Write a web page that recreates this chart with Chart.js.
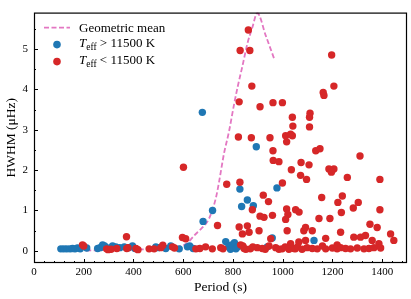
<!DOCTYPE html>
<html>
<head>
<meta charset="utf-8">
<script src="https://cdn.jsdelivr.net/npm/chart.js@4.4.0/dist/chart.umd.min.js"></script>
<style>
  html, body { margin: 0; padding: 0; background: #fff; }
  canvas { display: block; }
</style>
</head>
<body>
<canvas id="hwhmChart" width="411" height="299"></canvas>
<script>
// Geometric mean curve
const geoX = [210, 300, 400, 500, 577, 616, 644, 671, 704, 731, 744, 764, 784, 804, 820, 838, 858, 878, 898, 932, 965];
const geoY = [0.01, 0.02, 0.03, 0.06, 0.1, 0.19, 0.38, 0.54, 0.8, 1.3, 1.7, 2.41, 2.95, 3.61, 4.09, 4.57, 5.13, 5.53, 5.89, 5.33, 4.77];

// Teff > 11500 K
const blueX = [108, 120, 132, 145, 155, 165, 175, 186, 256, 266, 276, 284, 296, 316, 329, 345, 363, 380,
    396, 406, 490, 500, 530, 550, 584, 617, 626, 640, 680, 677, 718, 771, 783, 790, 795, 800,
    806, 812, 820, 828, 835, 858, 882, 894, 938, 958, 977, 1126, 212];
const blueY = [0.05, 0.05, 0.05, 0.05, 0.06, 0.05, 0.07, 0.05, 0.06, 0.08, 0.15, 0.12, 0.07, 0.12, 0.10, 0.08, 0.10, 0.08,
    0.12, 0.06, 0.10, 0.08, 0.06, 0.12, 0.05, 0.10, 0.12, 0.06, 0.73, 3.43, 1.00, 0.23, 0.10, 0.04, 0.15, 0.08,
    0.20, 0.05, 0.10, 1.53, 1.10, 1.26, 1.12, 2.58, 0.10, 0.32, 1.56, 0.26, 0.07];

// Teff < 11500 K
const redX = [
    195, 200, 292, 298, 310, 333, 372, 373, 378, 410, 418, 463, 483, 510, 518, 557, 565, 597, 610, 601, 651, 667, 690, 717, 738, 751, 775,
    822, 874, 949, 1012, 1039, 1016, 961, 962, 985, 1074, 1035, 1106, 1072, 1096, 828, 999, 922, 943, 878, 1016, 1021, 1052, 1066, 909, 925, 959, 1012,
    1133, 1150, 1311, 1186, 1206, 1196, 1260, 1391, 1157, 1240, 1222, 1304, 1284, 1236, 1391, 1146, 1190,
    862, 829, 868, 876, 825, 909, 961, 999, 1039, 1041, 1032, 1110, 1108, 1108, 1197, 1206, 1163, 1166,
    825, 838, 858, 865, 831, 898, 905, 952, 1018, 1032, 1065, 1085, 1092, 1119, 1173, 1233, 1286, 1313, 1333, 1351, 1380, 1360, 1387, 1434, 1447, 1092,
    760, 840, 845, 852, 870, 880, 918, 930, 945, 972, 985, 998, 1010, 1025, 1045, 1051, 1060, 1078, 1098, 1119, 1139, 1160, 1173, 1200, 1219, 1219, 1233, 1253, 1273, 1300, 1327, 1347, 1367, 1394
];
const redY = [
    0.15, 0.12, 0.05, 0.03, 0.04, 0.06, 0.35, 0.06, 0.08, 0.06, 0.03, 0.05, 0.05, 0.08, 0.14, 0.10, 0.07, 0.33, 0.30, 2.07, 0.05, 0.06, 0.10, 0.05, 0.63, 0.08, 1.65,
    2.82, 2.80, 2.80, 2.85, 2.85, 2.70, 2.48, 2.24, 2.21, 2.19, 2.01, 2.13, 1.87, 1.77, 1.70, 1.68, 1.38, 1.22, 1.02, 1.04, 0.90, 1.02, 0.96, 0.86, 0.83, 0.88, 0.78,
    2.48, 2.53, 2.35, 2.03, 2.03, 1.95, 1.82, 1.77, 1.32, 1.36, 1.20, 1.20, 1.06, 0.95, 1.02, 0.80, 0.80,
    5.47, 4.96, 4.96, 4.08, 3.69, 3.57, 3.67, 3.67, 3.31, 3.09, 2.89, 3.41, 3.31, 3.07, 4.85, 4.08, 3.92, 3.85,
    0.59, 0.42, 0.62, 0.46, 0.15, 0.08, 0.50, 0.30, 0.50, 0.18, 0.22, 0.50, 0.26, 0.50, 0.31, 0.46, 0.34, 0.34, 0.38, 0.66, 0.58, 0.26, 0.18, 0.42, 0.26, 0.58,
    0.05, 0.12, 0.06, 0.04, 0.05, 0.10, 0.06, 0.04, 0.12, 0.08, 0.04, 0.05, 0.10, 0.04, 0.06, 0.05, 0.10, 0.04, 0.08, 0.06, 0.05, 0.12, 0.05, 0.07, 0.05, 0.15, 0.08, 0.06, 0.05, 0.07, 0.05, 0.06, 0.08, 0.07
];

// Axis limits and ticks
const xMin = 0, xMax = 1500, xMajorStep = 200, xMinorStep = 40;
const yMin = -0.3, yMax = 5.9, yMajorStep = 1, yMinorStep = 0.5;

const serif = '"Liberation Serif", "DejaVu Serif", serif';
const pink = '#e377c2';
const blue = '#1f77b4';
const red = '#d62728';

function toPoints(xs, ys) {
    return xs.map((x, i) => ({ x: x, y: ys[i] }));
}

// Inward ticks + full box like matplotlib
const axesFrame = {
    id: 'axesFrame',
    afterDatasetsDraw(chart) {
        const { ctx, chartArea: a, scales: { x, y } } = chart;
        ctx.save();
        ctx.strokeStyle = '#000';
        ctx.lineWidth = 1;
        ctx.beginPath();
        for (let v = xMin; v <= xMax; v += xMinorStep) {
            const px = Math.round(x.getPixelForValue(v)) + 0.5;
            const len = v % xMajorStep === 0 ? 4 : 2;
            ctx.moveTo(px, a.bottom);
            ctx.lineTo(px, a.bottom - len);
        }
        for (let v = 0; v <= yMax; v += yMinorStep) {
            const py = Math.round(y.getPixelForValue(v)) + 0.5;
            const len = v % yMajorStep === 0 ? 4 : 2;
            ctx.moveTo(a.left, py);
            ctx.lineTo(a.left + len, py);
        }
        ctx.stroke();
        ctx.lineWidth = 1.2;
        ctx.strokeRect(a.left + 0.5, a.top + 0.5, a.width - 1, a.height - 1);
        ctx.restore();
    }
};

// Legend with T_eff subscript
function drawLabel(ctx, text, x, baseline) {
    const m = text.match(/^T_eff(.*)$/);
    ctx.fillStyle = '#000';
    ctx.textBaseline = 'alphabetic';
    ctx.textAlign = 'left';
    if (!m) {
        ctx.font = '13px ' + serif;
        ctx.fillText(text, x, baseline);
        return;
    }
    ctx.font = 'italic 13px ' + serif;
    ctx.fillText('T', x, baseline);
    x += ctx.measureText('T').width;
    ctx.font = '9.5px ' + serif;
    ctx.fillText('eff', x, baseline + 3);
    x += ctx.measureText('eff').width;
    ctx.font = '13px ' + serif;
    ctx.fillText(m[1], x, baseline);
}

const legendBox = {
    id: 'legendBox',
    afterDraw(chart) {
        const { ctx, chartArea: a } = chart;
        ctx.save();
        chart.data.datasets.forEach((ds, i) => {
            const cy = a.top + 15 + i * 17;
            if (ds.type === 'line') {
                ctx.strokeStyle = ds.borderColor;
                ctx.lineWidth = ds.borderWidth;
                ctx.setLineDash(ds.borderDash);
                ctx.beginPath();
                ctx.moveTo(a.left + 10, cy);
                ctx.lineTo(a.left + 36, cy);
                ctx.stroke();
                ctx.setLineDash([]);
                drawLabel(ctx, ds.label, a.left + 45, cy + 4.3);
            } else {
                ctx.fillStyle = ds.backgroundColor;
                ctx.beginPath();
                ctx.arc(a.left + 23, cy, 3.8, 0, Math.PI * 2);
                ctx.fill();
                drawLabel(ctx, ds.label, a.left + 45, cy + 2.5);
            }
        });
        ctx.restore();
    }
};

const ctx = document.getElementById('hwhmChart').getContext('2d');
const hwhmChart = new Chart(ctx, {
    type: 'scatter',
    data: {
        datasets: [{
            type: 'line',
            label: 'Geometric mean',
            data: toPoints(geoX, geoY),
            borderColor: pink,
            borderWidth: 1.8,
            borderDash: [5, 2.5],
            pointRadius: 0,
            fill: false,
            cubicInterpolationMode: 'monotone',
            order: 3
        }, {
            label: 'T_eff > 11500 K',
            data: toPoints(blueX, blueY),
            backgroundColor: blue,
            borderWidth: 0,
            pointRadius: 3.7,
            order: 2
        }, {
            label: 'T_eff < 11500 K',
            data: toPoints(redX, redY),
            backgroundColor: red,
            borderWidth: 0,
            pointRadius: 3.7,
            order: 1
        }]
    },
    options: {
        responsive: false,
        animation: false,
        devicePixelRatio: 1,
        events: [],
        layout: {
            padding: { top: 4, right: 4, left: 0, bottom: 0 }
        },
        plugins: {
            legend: { display: false },
            tooltip: { enabled: false }
        },
        scales: {
            x: {
                type: 'linear',
                min: xMin,
                max: xMax,
                grid: { display: false, drawTicks: false },
                border: { display: false },
                ticks: {
                    stepSize: xMajorStep,
                    includeBounds: false,
                    padding: 3,
                    maxRotation: 0,
                    color: '#000',
                    font: { family: serif, size: 11 },
                    callback: value => String(value)
                },
                title: {
                    display: true,
                    text: 'Period (s)',
                    color: '#000',
                    font: { family: serif, size: 13.5 },
                    padding: { top: 0, bottom: 3 }
                },
                afterFit(scale) { scale.height = 36; }
            },
            y: {
                type: 'linear',
                min: yMin,
                max: yMax,
                grid: { display: false, drawTicks: false },
                border: { display: false },
                ticks: {
                    stepSize: yMajorStep,
                    includeBounds: false,
                    padding: 6,
                    color: '#000',
                    font: { family: serif, size: 11 },
                    callback: value => String(value)
                },
                title: {
                    display: true,
                    text: 'HWHM (μHz)',
                    color: '#000',
                    font: { family: serif, size: 13.5 },
                    padding: { top: 3, bottom: 0 }
                },
                afterFit(scale) { scale.width = 34; }
            }
        }
    },
    plugins: [axesFrame, legendBox]
});
</script>
</body>
</html>
